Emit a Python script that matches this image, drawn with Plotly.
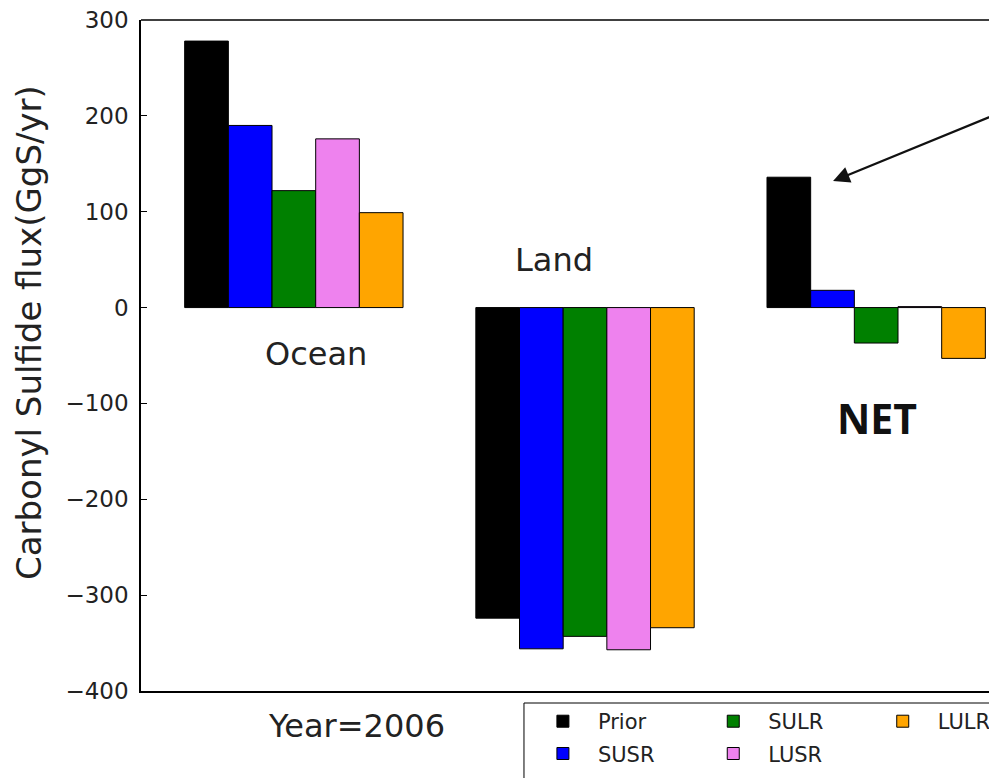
import plotly.graph_objects as go

groups = [0, 1, 2]  # Ocean, Land, NET
series_names = ["Prior", "SUSR", "SULR", "LUSR", "LULR"]
series_colors = ["#000000", "#0000ff", "#008000", "#ee82ee", "#ffa500"]
prior = [278, -324, 136]
susr = [190, -356, 18]
sulr = [122, -343, -37]
lusr = [176, -357, 1]
lulr = [99, -334, -53]
legend_columns = ["legend", "legend", "legend2", "legend2", "legend3"]
y_ticks = [-400, -300, -200, -100, 0, 100, 200, 300]

values = [prior, susr, sulr, lusr, lulr]

fig = go.Figure()
for name, col, vals, lg in zip(series_names, series_colors, values, legend_columns):
    fig.add_trace(go.Bar(
        x=groups, y=vals, name=name, legend=lg, legendgroup=name,
        marker=dict(color=col, line=dict(color="black", width=1)),
    ))

font_family = "DejaVu Sans"
txt = "#222222"


def col_legend(xp):
    return dict(
        orientation="v", x=xp, y=-0.015, xanchor="left", yanchor="top",
        bgcolor="rgba(0,0,0,0)", borderwidth=0, itemwidth=60,
        font=dict(family=font_family, size=21, color=txt),
        traceorder="grouped", tracegroupgap=2,
    )


fig.update_layout(
    width=989, height=770,
    margin=dict(l=133, r=0, t=12, b=87, autoexpand=False),
    plot_bgcolor="white", paper_bgcolor="white",
    barmode="group", bargap=0.25, bargroupgap=0,
    font=dict(family=font_family, color=txt),
    showlegend=True,
    legend=col_legend(0.452),
    legend2=col_legend(0.651),
    legend3=col_legend(0.849),
    xaxis=dict(
        range=[-0.525, 2.415], showticklabels=False, ticks="",
        showline=True, linecolor="black", linewidth=1.5, mirror=False,
        showgrid=False, zeroline=False,
    ),
    yaxis=dict(
        range=[-400, 300], tickvals=y_ticks,
        ticktext=[("\u2212" + str(-v)) if v < 0 else str(v) for v in y_ticks],
        ticks="inside", ticklen=6, tickcolor="black",
        ticklabeloverflow="allow", ticklabelstandoff=6,
        showline=True, linecolor="black", linewidth=1.5, mirror=False,
        showgrid=False, zeroline=False,
        tickfont=dict(family=font_family, size=23, color=txt),
    ),
    shapes=[
        dict(type="line", xref="paper", yref="paper", x0=0, x1=1, y0=1, y1=1,
             line=dict(color="black", width=1.5)),
        dict(type="rect", xref="paper", yref="paper", x0=0.4474, x1=1.05,
             y0=-0.0179, y1=-0.2, line=dict(color="black", width=1),
             fillcolor="rgba(0,0,0,0)", layer="below"),
    ],
)

fig.add_annotation(x=-0.1308, y=0.5335, xref="paper", yref="paper",
                   text="Carbonyl Sulfide flux(GgS/yr)", textangle=-90,
                   showarrow=False, xanchor="center", yanchor="middle",
                   font=dict(family=font_family, size=34, color=txt))
fig.add_annotation(x=0.075, y=-48, xref="x", yref="y", text="Ocean", showarrow=False,
                   xanchor="center", yanchor="middle",
                   font=dict(family=font_family, size=32, color=txt))
fig.add_annotation(x=0.893, y=50, xref="x", yref="y", text="Land", showarrow=False,
                   xanchor="center", yanchor="middle",
                   font=dict(family=font_family, size=32, color=txt))
fig.add_annotation(x=2.003, y=-115, xref="x", yref="y", text="<b>NET</b>", showarrow=False,
                   xanchor="center", yanchor="middle",
                   font=dict(family="Open Sans", size=41, color="#111111"))
fig.add_annotation(x=0.252, y=-0.052, xref="paper", yref="paper", text="Year=2006",
                   showarrow=False, xanchor="center", yanchor="middle",
                   font=dict(family=font_family, size=32, color=txt))
fig.add_annotation(x=1.852, y=132, xref="x", yref="y", ax=2.415, ay=202,
                   axref="x", ayref="y", text="", showarrow=True,
                   arrowhead=2, arrowsize=1.5, arrowwidth=2.2, arrowcolor="#111111")

fig.write_html("out.html")
